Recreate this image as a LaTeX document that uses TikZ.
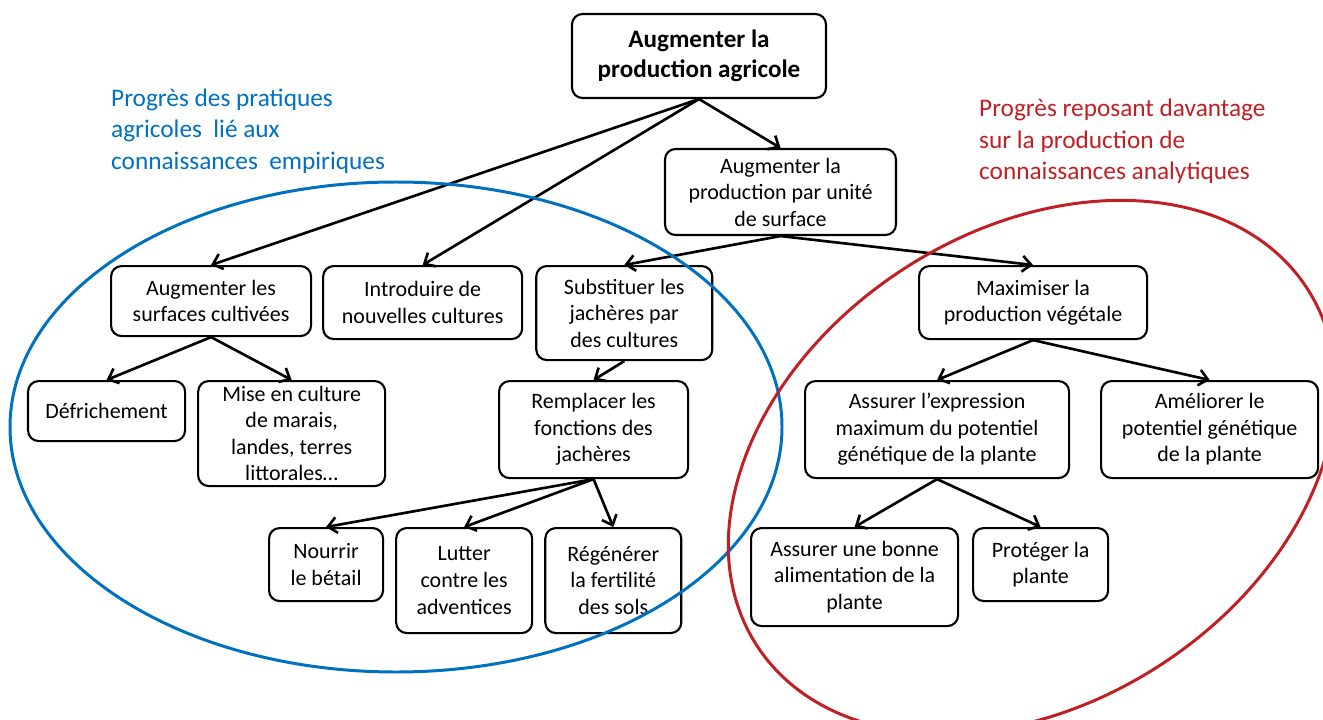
\documentclass[tikz,border=0pt]{standalone}
\usepackage{fontspec}
\setmainfont{Carlito}
\usepackage{tikz}
\usetikzlibrary{arrows.meta}
\usetikzlibrary{positioning}

\definecolor{empblue}{RGB}{0,112,192}
\definecolor{anared}{RGB}{192,32,36}

\begin{document}
\begin{tikzpicture}[>={Straight Barb[length=5pt,width=9pt]},
                    box/.style = {draw, rounded corners=6pt, align=center, line width=1.2pt,
                                  inner sep=2pt, font=\fontsize{12.5}{15.1}\selectfont},
                    link/.style = {->, line width=1.5pt},
                    zonetext/.style = {align=left, anchor=west,
                                       font=\fontsize{14.4}{17.8}\selectfont}]
  \useasboundingbox (0,0) rectangle (26.46,-14.4);
  \clip (0,0) rectangle (26.46,-14.4);

  % top of the tree
  \node [box, font=\fontsize{14.3}{17}\selectfont\bfseries,
         minimum width=5.08cm, minimum height=1.68cm] (prod) at (13.98,-1.12)
        {Augmenter la\\production agricole};
  \node [box, minimum width=4.62cm, minimum height=1.72cm] (unite) at (15.61,-3.84)
        {Augmenter la\\production par unité\\de surface};

  % second row
  \node [box, minimum width=4.0cm, minimum height=1.4cm, anchor=north west] (surf) at (2.2,-5.3)
        {Augmenter les\\surfaces cultivées};
  \node [box, minimum width=3.98cm, minimum height=1.46cm,
         below right=0cm and 0.2cm of surf.north east] (intro)
        {Introduire de\\nouvelles cultures};
  \node [box, minimum width=3.52cm, minimum height=1.88cm,
         below right=0cm and 0.24cm of intro.north east] (subst)
        {Substituer les\\jachères par\\des cultures};
  \node [box, minimum width=4.56cm, minimum height=1.46cm, anchor=north west] (maxi) at (18.36,-5.3)
        {Maximiser la\\production végétale};

  % third row
  \node [box, minimum width=3.14cm, minimum height=1.2cm, anchor=north west] (defr) at (0.54,-7.6)
        {Défrichement};
  \node [box, minimum width=3.74cm, minimum height=2.1cm,
         below right=0cm and 0.22cm of defr.north east] (mise)
        {Mise en culture\\de marais,\\landes, terres\\littorales…};
  \node [box, minimum width=3.78cm, minimum height=1.94cm, anchor=north west] (rempl) at (9.96,-7.6)
        {Remplacer les\\fonctions des\\jachères};
  \node [box, minimum width=5.28cm, minimum height=1.94cm, anchor=north west] (assur) at (16.08,-7.6)
        {Assurer l’expression\\maximum du potentiel\\génétique de la plante};
  \node [box, minimum width=4.34cm, minimum height=1.94cm,
         below right=0cm and 0.6cm of assur.north east] (amel)
        {Améliorer le\\potentiel génétique\\de la plante};

  % fourth row
  \node [box, minimum width=2.28cm, minimum height=1.46cm, anchor=north west] (nourr) at (5.36,-10.54)
        {Nourrir\\le bétail};
  \node [box, minimum width=2.72cm, minimum height=2.1cm,
         below right=0cm and 0.22cm of nourr.north east] (lutt)
        {Lutter\\contre les\\adventices};
  \node [box, minimum width=2.72cm, minimum height=2.1cm,
         below right=0cm and 0.22cm of lutt.north east] (regen)
        {Régénérer\\la fertilité\\des sols};
  \node [box, minimum width=4.14cm, minimum height=1.96cm, anchor=north west] (bonne) at (15.0,-10.54)
        {Assurer une bonne\\alimentation de la\\plante};
  \node [box, minimum width=2.7cm, minimum height=1.46cm,
         below right=0cm and 0.26cm of bonne.north east] (proteg)
        {Protéger la\\plante};

  % arrows
  \draw [link] (prod.south) -- (surf.north);
  \draw [link] (prod.south) -- (intro.north);
  \draw [link] (prod.south) -- (unite.north);
  \draw [link] (unite.south) -- (subst.north);
  \draw [link] (unite.south) -- (maxi.north);
  \draw [link] (surf.south) -- (defr.north);
  \draw [link] (surf.south) -- (mise.north);
  \draw [link] (subst.south) -- (rempl.north);
  \draw [link] (rempl.south) -- (nourr.north);
  \draw [link] (rempl.south) -- (lutt.north);
  \draw [link] (rempl.south) -- (regen.north);
  \draw [link] (maxi.south) -- (assur.north);
  \draw [link] (maxi.south) -- (amel.north);
  \draw [link] (assur.south) -- (bonne.north);
  \draw [link] (assur.south) -- (proteg.north);

  % the two fields of progress
  \node [zonetext, text=empblue] (empir) at (2.1,-2.62)
        {Progrès des pratiques\\agricoles\ \ lié aux\\connaissances\ \ empiriques};
  \node [zonetext, text=anared] (analy) at (19.46,-2.83)
        {Progrès reposant davantage\\sur la production de\\connaissances analytiques};
  \draw [empblue, line width=1.7pt] (7.92,-8.54) ellipse [x radius=7.72cm, y radius=4.9cm];
  \draw [anared, line width=1.7pt, rotate around={33:(20.64,-9.34)}]
        (20.64,-9.34) ellipse [x radius=6.56cm, y radius=4.72cm];
\end{tikzpicture}
\end{document}
